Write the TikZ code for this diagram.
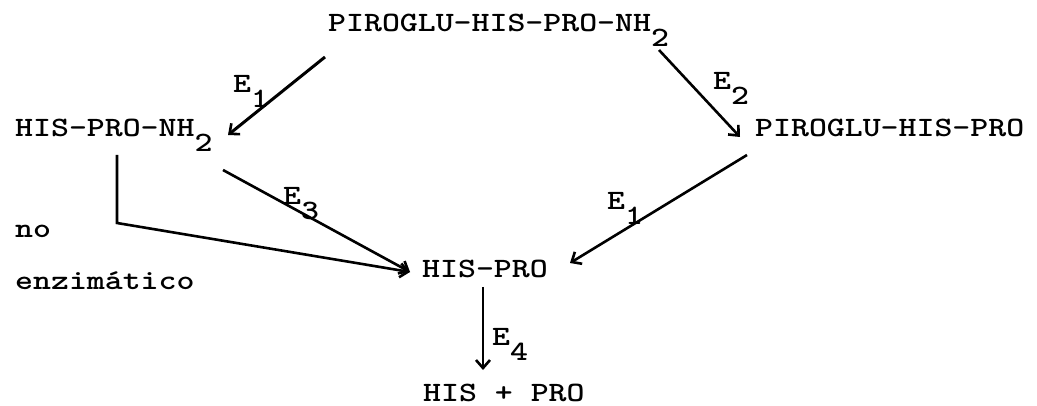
\documentclass[tikz,border=0pt]{standalone}
\usepackage{fontspec}
\usetikzlibrary{arrows.meta}
\newfontfamily\tw[FakeStretch=1.22]{lmmonolt10-bold.otf}
\newcommand{\lowd}[1]{\raisebox{-15pt}{#1}}
\tikzset{
  lbl/.style={inner sep=0pt, anchor=base west, font=\tw\fontsize{28}{32}\selectfont},
  rx/.style={line width=2.6pt, -{Straight Barb[length=8pt,width=14pt,line width=2.6pt]}},
}
\begin{document}
\begin{tikzpicture}[x=1pt,y=-1pt]
\useasboundingbox[fill=white] (0,0) rectangle (1037,406);
% compounds
\node[lbl] (top) at (328,32) {PIROGLU-HIS-PRO-NH\lowd{2}};
\node[lbl] (hpn) at (15,137) {HIS-PRO-NH\lowd{2}};
\node[lbl] (php) at (755,137) {PIROGLU-HIS-PRO};
\node[lbl] (no) at (15,238) {no};
\node[lbl] (enz) at (15,290) {enzimático};
\node[lbl] (hp) at (422,278) {HIS-PRO};
\node[lbl] (hpp) at (423,401) {HIS + PRO};
% enzyme labels
\node[lbl] (e1a) at (233,93) {E\lowd{1}};
\node[lbl] (e2) at (713,90) {E\lowd{2}};
\node[lbl] (e3) at (283,205) {E\lowd{3}};
\node[lbl] (e1b) at (607,210) {E\lowd{1}};
\node[lbl] (e4) at (492,345) {E\lowd{4}};
% connector end points
\coordinate (s1) at (325,57);  \coordinate (t1) at (228,135);
\coordinate (s2) at (659,50);  \coordinate (t2) at (740,137);
\coordinate (s3) at (223,170); \coordinate (t3) at (410,272);
\coordinate (sb) at (117,155); \coordinate (cb) at (117,223);
\coordinate (s5) at (747,155); \coordinate (t5) at (570,263);
\coordinate (s4) at (483,287); \coordinate (t4) at (483,370);
% connectors
\draw[rx, line width=3pt] (s1) -- (t1);
\draw[rx] (s2) -- (t2);
\draw[rx] (s3) -- (t3);
\draw[rx] (sb) -- (cb) -- (t3);
\draw[rx] (s5) -- (t5);
\draw[rx] (s4) -- (t4);
\end{tikzpicture}
\end{document}
